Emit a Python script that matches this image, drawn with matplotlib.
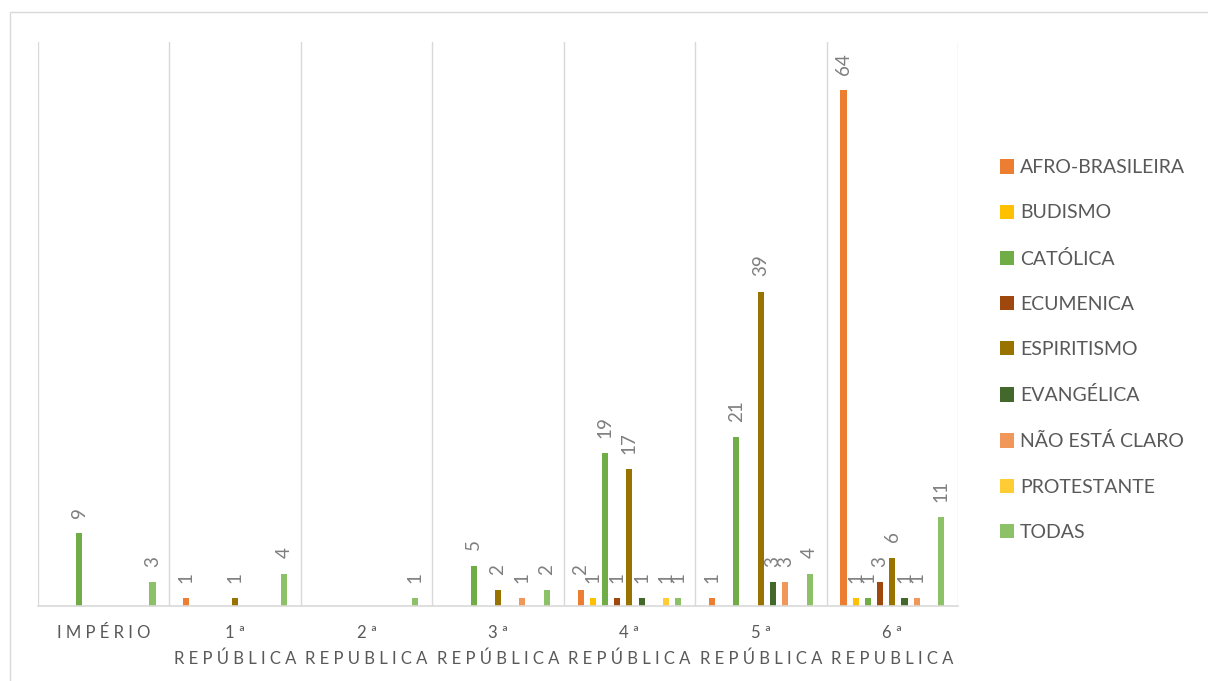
import matplotlib
matplotlib.use('Agg')
import matplotlib.pyplot as plt
import numpy as np
from matplotlib.patches import Rectangle

categories = ['IMPÉRIO', '1ª\nREPÚBLICA', '2ª\nREPUBLICA', '3ª\nREPÚBLICA',
              '4ª\nREPÚBLICA', '5ª\nREPÚBLICA', '6ª\nREPUBLICA']
series = ['AFRO-BRASILEIRA', 'BUDISMO', 'CATÓLICA', 'ECUMENICA', 'ESPIRITISMO',
          'EVANGÉLICA', 'NÃO ESTÁ CLARO', 'PROTESTANTE', 'TODAS']
# one list per series, values per category (Império ... 6ª República)
afro = [0, 1, 0, 0, 2, 1, 64]
budismo = [0, 0, 0, 0, 1, 0, 1]
catolica = [9, 0, 0, 5, 19, 21, 1]
ecumenica = [0, 0, 0, 0, 1, 0, 3]
espiritismo = [0, 1, 0, 2, 17, 39, 6]
evangelica = [0, 0, 0, 0, 1, 3, 1]
nao_claro = [0, 0, 0, 1, 0, 3, 1]
protestante = [0, 0, 0, 0, 1, 0, 0]
todas = [3, 4, 1, 2, 1, 4, 11]
values = [afro, budismo, catolica, ecumenica, espiritismo,
          evangelica, nao_claro, protestante, todas]
colors = ['#ED7D31', '#FFC000', '#70AD47', '#9E480E', '#997300',
          '#43682B', '#F1975A', '#FFCD33', '#8CC168']

plt.rcParams['font.family'] = ['Lato', 'DejaVu Sans']


def spaced(text):
    # letter-spaced labels like the original
    return '\n'.join(' '.join(line) for line in text.split('\n'))


fig = plt.figure(figsize=(12.08, 6.81), dpi=100)
fig.patches.append(Rectangle((10 / 1208, -0.1), 1.1, 1.1 - 12 / 681,
                             transform=fig.transFigure, fill=False,
                             edgecolor='#D9D9D9', linewidth=1))
ax = fig.add_axes([38 / 1208, 1 - 606 / 681, 920 / 1208, (606 - 42) / 681])

x = np.arange(len(categories))
step = 0.0928
width = 0.046
for i, (name, vals, col) in enumerate(zip(series, values, colors)):
    pos = x + (i - 4) * step
    ax.bar(pos, vals, width=width, color=col, label=name)
    for a, b in zip(pos, vals):
        if b:
            ax.annotate(str(b), (a, b), xytext=(0, 11), textcoords='offset points',
                        rotation=90, ha='center', va='bottom',
                        fontsize=13.5, color='#7F7F7F')

ax.set_xlim(-0.5, len(categories) - 0.5)
ax.set_ylim(0, 70)
ax.set_yticks([])
ax.set_xticks(x)
ax.set_xticklabels([spaced(c) for c in categories], fontsize=12, color='#595959')
for lab in ax.get_xticklabels():
    lab.set_linespacing(1.7)
ax.tick_params(axis='x', length=0, pad=14)
ax.set_xticks(np.arange(len(categories) + 1) - 0.5, minor=True)
ax.tick_params(axis='x', which='minor', length=0)
ax.grid(which='minor', axis='x', color='#D9D9D9', linewidth=1)
ax.set_axisbelow(True)
for s in ['top', 'right', 'left']:
    ax.spines[s].set_visible(False)
ax.spines['bottom'].set_color('#D9D9D9')
ax.spines['bottom'].set_linewidth(1.2)

leg = fig.legend(loc='center left', bbox_to_anchor=(982 / 1208, 1 - 350 / 681),
                 frameon=False, fontsize=14, handlelength=0.75, handleheight=0.75,
                 handletextpad=0.3, labelspacing=1.45)
for t in leg.get_texts():
    t.set_color('#595959')

fig.savefig('out.png', dpi=100)
